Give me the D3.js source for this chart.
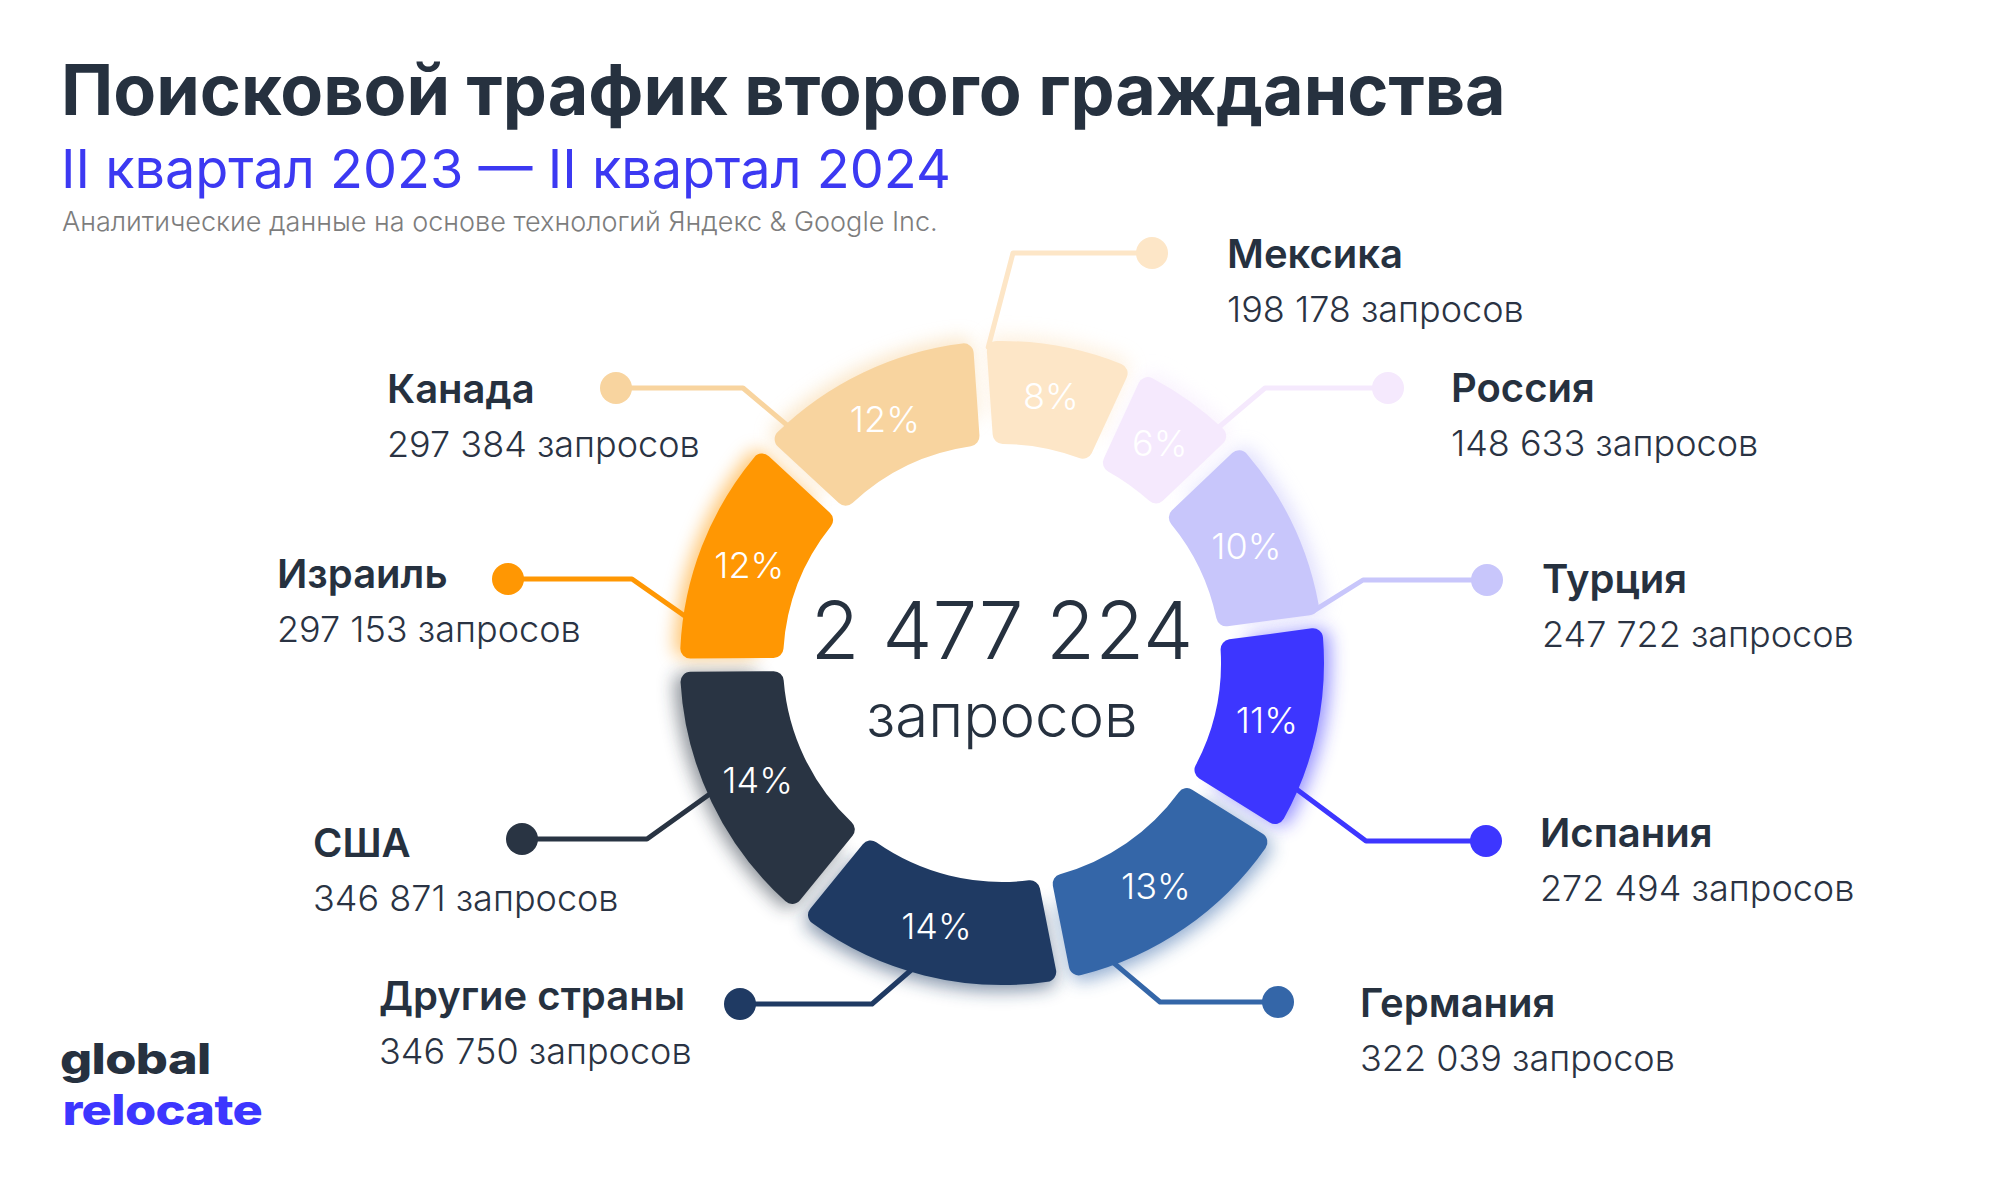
<!DOCTYPE html>
<html>
<head>
<meta charset="utf-8">
<script src="https://cdn.jsdelivr.net/npm/d3@7"></script>
<style>
  body { margin: 0; background: #fff; }
  svg text { font-family: Inter, "Noto Sans", sans-serif; }
</style>
</head>
<body>
<div id="chart"></div>
<script>
const countries = ["Мексика", "Россия", "Турция", "Испания", "Германия",
                   "Другие страны", "США", "Израиль", "Канада"];
const requests  = [198178, 148633, 247722, 272494, 322039,
                   346750, 346871, 297153, 297384];
const sliceColors = ["#fde6c7", "#f5e9fd", "#c8c6fb", "#3d36ff", "#3466a8",
                     "#1f3a63", "#293443", "#ff9703", "#f8d49f"];

const titleText    = "Поисковой трафик второго гражданства";
const subtitleText = "II квартал 2023 — II квартал 2024";
const sourceText   = "Аналитические данные на основе технологий Яндекс & Google Inc.";
const unitText     = "запросов";

// annotation layout: dot, elbow x, angle (deg, clockwise from 12 o'clock) where the leader meets the ring, text origin
const labelLayout = [
  { dot: [1152, 253],  elbowX: 1013, anchor: 357.5, text: [1227, 268]  },
  { dot: [1388, 388],  elbowX: 1265, anchor: 42.5,  text: [1451, 402]  },
  { dot: [1487, 580],  elbowX: 1363, anchor: 80.5,  text: [1542, 593]  },
  { dot: [1486, 841],  elbowX: 1366, anchor: 113,   text: [1540, 847]  },
  { dot: [1278, 1002], elbowX: 1160, anchor: 160,   text: [1360, 1017] },
  { dot: [740, 1004],  elbowX: 872,  anchor: 196,   text: [379, 1010]  },
  { dot: [522, 839],   elbowX: 647,  anchor: 246,   text: [313, 857]   },
  { dot: [508, 579],   elbowX: 632,  anchor: 278,   text: [277, 588]   },
  { dot: [616, 388],   elbowX: 743,  anchor: 318,   text: [387, 403]   }
];

const width = 2000, height = 1200;
const cx = 1002, cy = 663;
const rInner = 219, rOuter = 322;
const dark = "#26313f";

const fmt = d3.formatLocale({ decimal: ",", thousands: " ", grouping: [3], currency: ["", ""] }).format(",d");
const total = d3.sum(requests);
const rows = countries.map((c, i) => ({ name: c, value: requests[i], color: sliceColors[i], layout: labelLayout[i] }));

const svg = d3.select("#chart").append("svg")
    .attr("width", width)
    .attr("height", height);

const defs = svg.append("defs");
defs.append("filter")
    .attr("id", "glow")
    .attr("x", "-50%").attr("y", "-50%")
    .attr("width", "200%").attr("height", "200%")
  .append("feGaussianBlur")
    .attr("stdDeviation", 9);

// ---- header ----
svg.append("text")
    .attr("x", 61).attr("y", 115)
    .attr("font-size", 70).attr("font-weight", 700)
    .attr("fill", dark)
    .text(titleText);

svg.append("text")
    .attr("x", 61).attr("y", 188)
    .attr("font-size", 54).attr("font-weight", 400)
    .attr("fill", "#3c39f2")
    .text(subtitleText);

svg.append("text")
    .attr("x", 62).attr("y", 231)
    .attr("font-size", 27).attr("font-weight", 300)
    .attr("fill", "#7d7d7d")
    .text(sourceText);

// ---- donut ----
const startAngle = -4 * Math.PI / 180;
const pie = d3.pie()
    .sort(null)
    .value(d => d.value)
    .startAngle(startAngle)
    .endAngle(startAngle + 2 * Math.PI);

const arcs = pie(rows);

const arc = d3.arc()
    .innerRadius(rInner)
    .outerRadius(rOuter)
    .cornerRadius(10)
    .padAngle(0.034);

const glowArc = d3.arc()
    .innerRadius(rInner + 25)
    .outerRadius(rOuter + 6)
    .cornerRadius(10)
    .padAngle(0.04);

const labelArc = d3.arc().innerRadius(271).outerRadius(271);

const ring = svg.append("g").attr("transform", `translate(${cx},${cy})`);

ring.append("g")
  .selectAll("path")
  .data(arcs)
  .join("path")
    .attr("d", glowArc)
    .attr("fill", d => d.data.color)
    .attr("opacity", 0.55)
    .attr("filter", "url(#glow)");

// leader lines (drawn under the slices)
const toRad = deg => deg * Math.PI / 180;
const line = d3.line();
const leaders = svg.append("g");

leaders.selectAll("path")
  .data(rows)
  .join("path")
    .attr("d", d => {
      const a = toRad(d.layout.anchor);
      const r = rOuter - 6;
      const end = [cx + r * Math.sin(a), cy - r * Math.cos(a)];
      return line([d.layout.dot, [d.layout.elbowX, d.layout.dot[1]], end]);
    })
    .attr("fill", "none")
    .attr("stroke", d => d.color)
    .attr("stroke-width", 5)
    .attr("stroke-linejoin", "round")
    .attr("stroke-linecap", "round");

leaders.selectAll("circle")
  .data(rows)
  .join("circle")
    .attr("cx", d => d.layout.dot[0])
    .attr("cy", d => d.layout.dot[1])
    .attr("r", 16)
    .attr("fill", d => d.color);

const slices = svg.append("g").attr("transform", `translate(${cx},${cy})`);

slices.selectAll("path")
  .data(arcs)
  .join("path")
    .attr("d", arc)
    .attr("fill", d => d.data.color);

slices.selectAll("text")
  .data(arcs)
  .join("text")
    .attr("transform", d => `translate(${labelArc.centroid(d)})`)
    .attr("text-anchor", "middle")
    .attr("dy", "0.36em")
    .attr("font-size", 36)
    .attr("font-weight", 300)
    .attr("fill", "#fff")
    .text(d => Math.round(d.data.value / total * 100) + "%");

// centre total
svg.append("text")
    .attr("x", cx).attr("y", 659)
    .attr("text-anchor", "middle")
    .attr("font-size", 80).attr("font-weight", 300)
    .attr("fill", dark)
    .text(fmt(total));
svg.append("text")
    .attr("x", cx).attr("y", 737)
    .attr("text-anchor", "middle")
    .attr("font-size", 60).attr("font-weight", 300)
    .attr("fill", dark)
    .text(unitText);

// ---- country labels ----
const labels = svg.append("g")
  .selectAll("g")
  .data(rows)
  .join("g")
    .attr("transform", d => `translate(${d.layout.text})`);

labels.append("text")
    .attr("font-size", 40).attr("font-weight", 600)
    .attr("fill", dark)
    .text(d => d.name);

labels.append("text")
    .attr("y", 54)
    .attr("font-size", 36).attr("font-weight", 300)
    .attr("fill", "#2a3343")
    .text(d => `${fmt(d.value)} ${unitText}`);

// ---- logo ----
const logo = svg.append("g")
    .attr("transform", "translate(60,0) scale(1.2,1)")
    .attr("font-weight", 800)
    .attr("font-size", 42)
    .attr("letter-spacing", -0.5);
logo.append("text")
    .attr("x", 0).attr("y", 1074)
    .attr("fill", dark)
    .text("global");
logo.append("text")
    .attr("x", 2).attr("y", 1125)
    .attr("fill", "#3d36ff")
    .text("relocate");
</script>
</body>
</html>
